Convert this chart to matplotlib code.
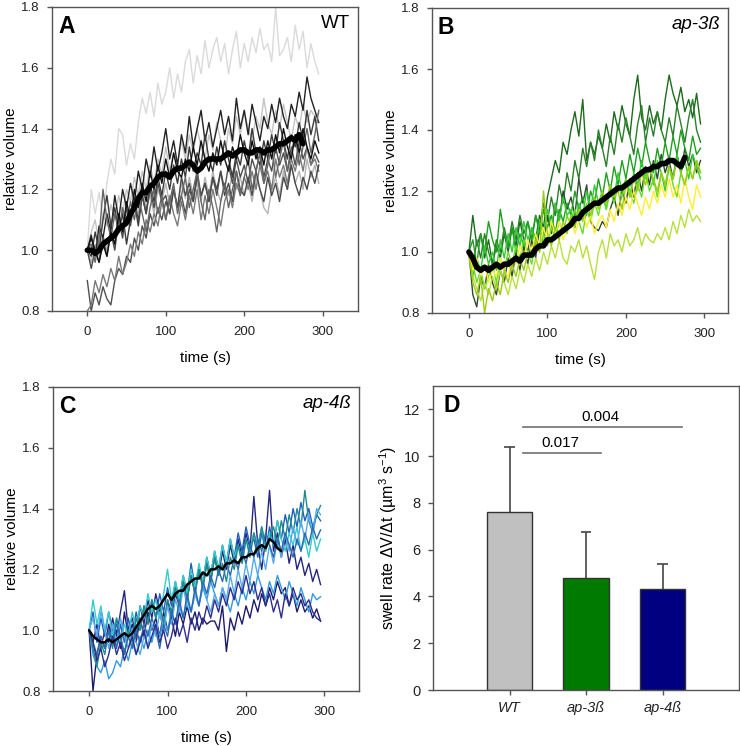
import numpy as np
import matplotlib
matplotlib.use("Agg")
from matplotlib import pyplot as plt

plt.rcParams['font.family'] = ['Liberation Sans', 'DejaVu Sans']
plt.rcParams['mathtext.fontset'] = 'custom'
plt.rcParams['mathtext.rm'] = 'Liberation Sans'
plt.rcParams['mathtext.it'] = 'Liberation Sans:italic'

dt = 5  # s between frames

# ---------------- panel A : WT ----------------
wt_traces = [
    [1.00,1.20,1.12,1.19,1.10,1.22,1.30,1.25,1.40,1.38,1.28,1.35,1.30,1.42,1.50,1.45,1.52,1.44,1.55,1.48,1.52,1.60,1.50,1.58,1.52,1.62,1.66,1.55,1.64,1.58,1.69,1.60,1.66,1.70,1.62,1.68,1.58,1.66,1.72,1.60,1.68,1.62,1.70,1.65,1.73,1.66,1.68,1.62,1.80,1.64,1.66,1.70,1.62,1.74,1.66,1.72,1.60,1.68,1.62,1.58],
    [1.00,1.06,1.10,1.02,1.12,1.08,1.15,1.10,1.18,1.12,1.20,1.16,1.24,1.18,1.26,1.20,1.28,1.22,1.30,1.25,1.34,1.26,1.32,1.28,1.36,1.30,1.38,1.32,1.40,1.34,1.30,1.38,1.33,1.42,1.36,1.30,1.40,1.35,1.44,1.38,1.46,1.40,1.36,1.44,1.40,1.50,1.42,1.38,1.46,1.40,1.48,1.42,1.36,1.44,1.40,1.48,1.42,1.46,1.44,1.45],
    [1.00,0.96,1.02,0.98,1.05,1.00,1.08,1.04,1.10,1.06,1.14,1.10,1.16,1.12,1.20,1.14,1.18,1.12,1.20,1.16,1.22,1.15,1.20,1.14,1.22,1.17,1.24,1.18,1.22,1.16,1.24,1.18,1.26,1.20,1.16,1.22,1.18,1.26,1.20,1.24,1.18,1.22,1.16,1.24,1.20,1.14,1.12,1.20,1.24,1.18,1.26,1.20,1.28,1.22,1.26,1.20,1.30,1.24,1.28,1.22],
    [0.90,0.80,0.86,0.82,0.88,0.84,0.82,0.90,0.94,0.92,0.98,0.96,1.04,1.00,1.08,1.04,1.12,1.08,1.14,1.10,1.16,1.12,1.20,1.14,1.18,1.12,1.20,1.16,1.24,1.18,1.22,1.16,1.24,1.18,1.26,1.20,1.28,1.22,1.30,1.24,1.28,1.22,1.30,1.26,1.32,1.24,1.30,1.26,1.34,1.28,1.32,1.26,1.34,1.28,1.36,1.30,1.34,1.28,1.32,1.29],
    [0.80,0.82,0.90,0.86,0.92,0.88,0.94,0.90,0.98,0.92,0.96,1.02,0.98,1.06,1.02,1.10,1.06,1.12,1.08,1.16,1.10,1.18,1.12,1.08,1.16,1.10,1.18,1.12,1.20,1.10,1.18,1.12,1.20,1.14,1.08,1.16,1.20,1.14,1.22,1.18,1.24,1.20,1.26,1.20,1.28,1.22,1.26,1.20,1.30,1.24,1.28,1.22,1.30,1.26,1.32,1.26,1.34,1.28,1.30,1.26],
    [1.00,1.05,0.98,1.08,1.04,1.12,1.06,1.18,1.10,1.20,1.14,1.22,1.16,1.26,1.20,1.30,1.24,1.34,1.26,1.32,1.40,1.30,1.36,1.28,1.38,1.32,1.44,1.34,1.40,1.46,1.36,1.42,1.34,1.40,1.46,1.38,1.44,1.36,1.50,1.40,1.46,1.38,1.48,1.42,1.36,1.44,1.40,1.48,1.42,1.50,1.44,1.40,1.48,1.44,1.52,1.46,1.57,1.50,1.46,1.42],
    [1.00,0.98,1.06,1.00,1.10,1.18,1.08,1.14,1.06,1.12,1.02,1.10,1.16,1.08,1.18,1.12,1.22,1.16,1.24,1.18,1.26,1.20,1.28,1.22,1.30,1.24,1.34,1.26,1.32,1.28,1.38,1.30,1.26,1.34,1.28,1.36,1.30,1.24,1.32,1.28,1.36,1.30,1.40,1.32,1.28,1.36,1.30,1.38,1.32,1.42,1.36,1.30,1.38,1.34,1.42,1.36,1.46,1.38,1.44,1.36],
    [1.00,0.94,1.00,0.96,1.04,0.98,1.06,1.00,1.10,1.04,1.14,1.08,1.16,1.10,1.18,1.12,1.20,1.14,1.22,1.16,1.18,1.12,1.20,1.14,1.24,1.18,1.22,1.16,1.26,1.18,1.22,1.16,1.24,1.20,1.26,1.18,1.22,1.16,1.26,1.20,1.18,1.24,1.18,1.26,1.20,1.16,1.24,1.18,1.22,1.16,1.24,1.20,1.28,1.22,1.18,1.24,1.20,1.26,1.22,1.28],
    [1.00,1.02,0.96,1.04,1.20,1.10,1.04,1.12,1.06,1.14,1.08,1.16,1.10,1.18,1.12,1.06,1.14,1.20,1.12,1.18,1.10,1.16,1.22,1.12,1.18,1.24,1.14,1.20,1.26,1.16,1.10,1.20,1.14,1.06,1.16,1.22,1.14,1.20,1.26,1.18,1.24,1.30,1.20,1.26,1.32,1.22,1.28,1.34,1.24,1.30,1.36,1.26,1.32,1.38,1.28,1.34,1.40,1.32,1.38,1.46],
    [1.00,1.04,1.00,0.96,1.02,0.98,1.06,1.02,1.12,1.06,1.16,1.10,1.20,1.14,1.22,1.16,1.26,1.20,1.28,1.22,1.30,1.24,1.32,1.26,1.24,1.30,1.26,1.34,1.28,1.36,1.30,1.26,1.32,1.28,1.36,1.30,1.26,1.34,1.30,1.38,1.32,1.28,1.36,1.30,1.34,1.28,1.36,1.30,1.38,1.32,1.40,1.34,1.30,1.38,1.32,1.40,1.34,1.30,1.36,1.32],
]
wt_colors = ['#dadada', '#c4c4c4', '#b4b4b4', '#505050', '#7a7a7a',
             '#222222', '#3a3a3a', '#4a4a4a', '#666666', '#111111']
wt_mean = [1.00,1.00,0.99,1.00,1.02,1.03,1.04,1.05,1.07,1.08,1.09,1.12,1.14,1.17,1.19,1.19,1.21,1.22,1.24,1.25,
           1.25,1.24,1.26,1.27,1.27,1.28,1.29,1.28,1.26,1.27,1.29,1.30,1.30,1.30,1.30,1.31,1.32,1.31,1.32,1.33,
           1.33,1.32,1.32,1.33,1.33,1.32,1.33,1.33,1.34,1.35,1.35,1.36,1.37,1.36,1.38,1.35]

# ---------------- panel B : ap-3ß ----------------
ap3_traces = [
    [1.00,1.12,1.02,1.06,0.98,1.04,0.96,1.02,0.98,1.06,1.00,1.08,1.02,1.10,1.04,1.00,1.08,1.04,1.12,1.08,1.18,1.24,1.30,1.26,1.36,1.32,1.40,1.46,1.38,1.50,1.30,1.36,1.32,1.38,1.34,1.42,1.36,1.46,1.40,1.48,1.42,1.38,1.50,1.58,1.44,1.40,1.48,1.42,1.46,1.40,1.50,1.58,1.52,1.48,1.54,1.46,1.50,1.44,1.52,1.42],
    [1.00,0.94,1.04,0.98,1.06,1.00,0.96,1.04,1.00,1.08,1.02,1.10,1.04,1.12,1.06,1.10,1.04,1.12,1.08,1.16,1.10,1.18,1.12,1.22,1.16,1.26,1.20,1.30,1.24,1.34,1.28,1.36,1.30,1.40,1.34,1.28,1.38,1.32,1.42,1.36,1.44,1.38,1.32,1.42,1.48,1.36,1.44,1.38,1.46,1.40,1.36,1.44,1.38,1.48,1.42,1.36,1.44,1.50,1.40,1.36],
    [1.00,0.86,0.82,0.92,0.88,0.96,0.90,0.86,0.94,0.90,0.98,0.92,1.00,0.94,1.02,0.96,1.04,0.98,1.08,1.02,1.12,1.06,1.16,1.10,1.20,1.14,1.18,1.12,1.24,1.16,1.22,1.10,1.08,1.07,1.10,1.08,1.14,1.18,1.12,1.20,1.16,1.24,1.18,1.26,1.20,1.28,1.22,1.30,1.24,1.32,1.26,1.30,1.24,1.32,1.26,1.34,1.28,1.32,1.26,1.30],
    [1.00,1.04,0.96,1.06,1.00,1.10,1.04,1.00,1.14,1.06,1.02,1.08,1.00,1.06,1.02,1.10,1.04,1.12,1.06,1.14,1.08,1.12,1.06,1.14,1.10,1.16,1.12,1.20,1.14,1.18,1.12,1.20,1.16,1.24,1.18,1.26,1.20,1.28,1.22,1.30,1.24,1.32,1.26,1.34,1.28,1.36,1.30,1.26,1.34,1.28,1.36,1.30,1.38,1.32,1.40,1.34,1.30,1.38,1.32,1.34],
    [1.00,0.92,0.98,0.94,1.02,0.96,1.00,0.94,1.04,0.98,1.06,1.00,1.08,1.02,1.10,1.04,1.08,1.02,1.10,1.06,1.14,1.08,1.16,1.10,1.18,1.12,1.14,1.08,1.16,1.12,1.20,1.14,1.22,1.16,1.20,1.14,1.22,1.18,1.26,1.20,1.24,1.18,1.26,1.22,1.30,1.24,1.28,1.22,1.30,1.26,1.20,1.28,1.24,1.32,1.26,1.30,1.24,1.32,1.28,1.24],
    [1.00,0.96,0.90,0.94,0.88,0.92,0.96,0.90,0.98,0.94,1.00,0.96,1.02,0.98,1.04,1.00,0.96,1.04,1.00,1.06,1.02,1.08,1.04,1.10,1.06,1.12,1.08,1.14,1.10,1.06,1.14,1.10,1.16,1.12,1.18,1.14,1.20,1.16,1.22,1.18,1.24,1.20,1.16,1.22,1.18,1.26,1.20,1.24,1.18,1.26,1.22,1.28,1.22,1.18,1.26,1.22,1.28,1.24,1.30,1.26],
    [1.00,0.94,0.98,0.92,0.96,0.90,0.94,0.92,0.98,0.94,0.92,0.98,0.96,1.02,0.98,1.04,1.00,1.06,1.02,1.08,1.04,1.10,1.06,1.10,1.04,1.08,1.12,1.06,1.10,1.14,1.08,1.12,1.06,1.10,1.12,1.08,1.14,1.10,1.16,1.12,1.18,1.14,1.20,1.16,1.12,1.18,1.14,1.20,1.16,1.22,1.18,1.24,1.18,1.22,1.16,1.24,1.18,1.14,1.22,1.18],
    [0.98,0.92,0.88,0.84,0.90,0.86,0.92,0.88,0.94,0.90,0.86,0.92,0.88,0.94,0.90,0.96,0.92,0.98,0.94,1.00,0.96,1.02,0.98,1.04,0.98,0.96,1.02,1.00,1.04,0.98,1.02,0.96,0.91,1.00,1.04,0.98,1.06,1.02,1.04,1.00,1.06,1.02,1.04,1.08,1.02,1.06,1.04,1.03,1.06,1.04,1.08,1.04,1.10,1.06,1.12,1.08,1.14,1.10,1.12,1.10],
    [1.00,0.90,0.86,0.92,0.80,0.88,0.84,0.90,0.86,0.94,0.90,0.96,0.92,0.98,0.94,1.00,0.98,1.04,1.00,1.20,1.06,1.02,1.08,1.04,1.10,1.06,1.12,1.08,1.14,1.10,1.16,1.12,1.18,1.14,1.20,1.16,1.22,1.18,1.20,1.14,1.22,1.18,1.24,1.20,1.26,1.22,1.28,1.24,1.20,1.26,1.22,1.28,1.24,1.30,1.26,1.22,1.28,1.24,1.30,1.26],
]
ap3_colors = ['#1e6b1e', '#2b7f2b', '#2f4a2f', '#1f9f1f', '#33cc33',
              '#66dd22', '#ffee33', '#b8e03a', '#9acd10']
ap3_mean = [1.00,0.98,0.95,0.94,0.95,0.94,0.95,0.96,0.95,0.96,0.96,0.97,0.98,0.97,0.99,0.99,0.99,1.01,1.02,1.02,
            1.04,1.04,1.05,1.06,1.07,1.08,1.09,1.11,1.11,1.13,1.14,1.15,1.16,1.16,1.17,1.18,1.19,1.20,1.21,1.21,
            1.22,1.23,1.24,1.25,1.26,1.27,1.27,1.28,1.28,1.29,1.29,1.30,1.30,1.29,1.28,1.31]

# ---------------- panel C : ap-4ß ----------------
ap4_traces = [
    [1.00,0.80,0.92,0.98,0.94,1.02,0.96,1.00,0.94,1.06,0.98,1.02,0.96,1.04,0.98,1.06,1.00,1.04,0.98,1.06,1.00,1.04,0.98,1.06,1.02,1.08,1.02,1.06,1.00,1.04,1.02,1.03,1.03,1.00,1.08,0.93,1.04,1.00,1.06,1.02,1.08,1.04,1.10,1.06,1.12,1.08,1.14,1.10,1.16,1.12,1.14,1.08,1.12,1.06,1.10,1.06,1.08,1.04,1.07,1.03],
    [1.00,0.96,1.02,0.94,1.00,0.96,1.04,0.98,1.06,1.13,1.00,1.04,0.98,1.08,1.02,1.10,1.04,1.12,1.06,1.00,1.10,1.04,1.12,1.08,1.16,1.10,1.18,1.12,1.20,1.14,1.22,1.16,1.24,1.18,1.26,1.20,1.28,1.22,1.30,1.24,1.32,1.26,1.44,1.28,1.20,1.30,1.46,1.26,1.32,1.24,1.30,1.22,1.28,1.20,1.24,1.18,1.22,1.16,1.20,1.15],
    [1.00,1.06,0.96,1.04,0.98,1.06,1.00,0.94,1.02,0.96,1.04,0.98,1.06,1.00,1.08,1.02,1.10,1.04,1.12,1.06,1.14,1.08,1.16,1.10,1.18,1.12,1.22,1.14,1.20,1.16,1.24,1.18,1.26,1.20,1.28,1.22,1.30,1.24,1.32,1.26,1.34,1.28,1.30,1.24,1.32,1.26,1.34,1.28,1.36,1.30,1.38,1.32,1.40,1.34,1.42,1.36,1.40,1.34,1.38,1.36],
    [1.00,0.92,0.88,0.86,0.90,0.84,0.86,0.90,0.88,0.94,0.90,0.96,0.92,0.98,0.94,1.00,0.96,1.02,0.98,1.04,1.00,1.06,1.02,1.08,1.04,1.10,1.06,1.12,1.08,1.14,1.10,1.16,1.12,1.08,1.14,1.10,1.06,1.12,1.08,1.14,1.10,1.16,1.12,1.18,1.14,1.10,1.16,1.12,1.18,1.14,1.10,1.16,1.12,1.08,1.14,1.10,1.06,1.12,1.10,1.11],
    [1.00,1.10,1.02,1.08,1.00,1.06,0.98,1.04,0.96,1.02,0.98,1.06,1.00,1.08,1.04,1.12,1.06,1.10,1.04,1.12,1.20,1.10,1.16,1.10,1.18,1.12,1.20,1.14,1.22,1.16,1.24,1.18,1.26,1.20,1.28,1.22,1.30,1.24,1.28,1.22,1.30,1.26,1.32,1.28,1.34,1.26,1.32,1.28,1.36,1.30,1.26,1.32,1.28,1.34,1.26,1.30,1.24,1.32,1.26,1.30],
    [1.00,0.94,0.88,0.96,0.92,1.00,0.94,1.04,0.98,0.92,1.00,0.96,1.04,1.00,1.08,1.02,1.10,1.04,1.08,1.02,1.10,1.06,1.14,1.08,1.16,1.10,1.18,1.12,1.20,1.14,1.22,1.16,1.24,1.18,1.22,1.16,1.24,1.20,1.28,1.22,1.30,1.24,1.32,1.26,1.34,1.28,1.30,1.34,1.28,1.36,1.30,1.38,1.32,1.40,1.34,1.46,1.36,1.32,1.38,1.41],
    [1.00,1.04,0.98,1.06,1.00,0.94,1.02,0.96,1.04,0.98,0.94,1.00,0.96,0.92,0.98,0.95,1.02,0.98,1.06,1.00,1.08,1.02,1.10,1.06,1.14,1.08,1.06,1.12,1.08,1.16,1.10,1.06,1.12,1.08,1.14,1.10,1.18,1.12,1.20,1.14,1.22,1.16,1.24,1.18,1.26,1.20,1.28,1.22,1.30,1.24,1.32,1.26,1.34,1.28,1.36,1.30,1.38,1.32,1.40,1.38],
    [1.00,0.96,0.92,0.98,0.94,1.00,0.96,1.02,0.98,0.92,0.98,0.94,1.00,0.96,1.02,0.98,1.04,1.00,0.94,1.02,0.98,1.06,1.02,1.10,1.04,1.12,1.06,1.14,1.08,1.16,1.12,1.18,1.14,1.20,1.16,1.22,1.18,1.24,1.20,1.26,1.22,1.28,1.24,1.30,1.26,1.32,1.28,1.24,1.30,1.26,1.32,1.28,1.24,1.30,1.26,1.32,1.28,1.34,1.30,1.33],
    [1.00,0.96,0.90,0.94,0.88,0.92,0.98,0.92,0.96,0.90,0.94,0.98,0.92,0.96,1.00,0.94,0.98,1.02,0.96,1.00,0.94,0.98,1.04,0.98,1.02,0.96,1.04,1.00,1.06,1.02,1.08,1.04,1.10,1.06,1.12,1.08,1.14,1.10,1.16,1.12,1.18,1.12,1.16,1.10,1.14,1.08,1.12,1.06,1.10,1.04,1.12,1.08,1.14,1.10,1.12,1.08,1.10,1.06,1.04,1.03],
]
ap4_colors = ['#1c1c6b', '#25257f', '#1f5fbf', '#3399e0', '#33cccc',
              '#1f8a8a', '#55aaee', '#2a6ab0', '#2e2e8a']
ap4_mean = [1.00,0.98,0.97,0.96,0.96,0.97,0.96,0.97,0.98,0.99,0.98,0.99,1.01,1.03,1.05,1.07,1.08,1.07,1.08,1.10,
            1.12,1.10,1.12,1.13,1.13,1.15,1.16,1.17,1.17,1.19,1.18,1.20,1.20,1.21,1.20,1.22,1.22,1.23,1.22,1.24,
            1.24,1.25,1.25,1.27,1.28,1.27,1.30,1.29,1.27,1.26]

# ---------------- panel D : swell rate ----------------
groups = ['WT', 'ap-3ß', 'ap-4ß']
rate = [7.6, 4.8, 4.3]
rate_err = [2.8, 1.95, 1.1]
bar_colors = ['#c0c0c0', '#007a00', '#000080']
sig_labels = ['0.017', '0.004']
sig_y = [10.15, 11.25]
sig_span = [(1.17, 2.2), (1.17, 3.26)]

fig = plt.figure(figsize=(7.40, 7.46), dpi=100)
W, H = 740, 746


def add_ax(l, t, r, b):
    return fig.add_axes([l / W, 1 - b / H, (r - l) / W, (b - t) / H])


def style(ax, size=9.5):
    for s in ax.spines.values():
        s.set_color('#555555')
        s.set_linewidth(1.0)
    ax.tick_params(direction='out', length=3.5, width=1, color='#555555',
                   labelsize=size, labelcolor='#222222', top=False, right=False)
    ax.tick_params(axis='x', pad=7.5)
    ax.tick_params(axis='y', pad=5.5)


def trace_panel(ax, traces, colors, mean, mean_lw, letter, name, italic, xlim):
    for tr, c in zip(traces, colors):
        t = np.arange(len(tr)) * dt
        ax.plot(t, tr, color=c, lw=1.0)
    tm = np.arange(len(mean)) * dt
    ax.plot(tm, mean, color='black', lw=mean_lw, solid_capstyle='round')
    ax.set_xlim(*xlim)
    ax.set_ylim(0.8, 1.8)
    ax.set_xticks([0, 100, 200, 300])
    ax.set_yticks([0.8, 1.0, 1.2, 1.4, 1.6, 1.8])
    ax.yaxis.set_major_formatter(matplotlib.ticker.FormatStrFormatter('%.1f'))
    style(ax)
    ax.set_xlabel('time (s)', fontsize=11, labelpad=9)
    ax.set_ylabel('relative volume', fontsize=11, labelpad=2)
    ax.text(0.02, 0.975, letter, transform=ax.transAxes, fontsize=16.5,
            fontweight='bold', va='top', ha='left')
    ax.text(0.975, 0.975, name, transform=ax.transAxes, fontsize=13.5,
            style='italic' if italic else 'normal', va='top', ha='right')


axA = add_ax(52, 7, 358, 311)
trace_panel(axA, wt_traces, wt_colors, wt_mean, 4.0, 'A', 'WT', False, (-45, 345))

axB = add_ax(432, 8, 728, 313)
trace_panel(axB, ap3_traces, ap3_colors, ap3_mean, 4.0, 'B', 'ap-3ß', True, (-47, 330))

axC = add_ax(53, 387, 359, 691)
trace_panel(axC, ap4_traces, ap4_colors, ap4_mean, 1.8, 'C', 'ap-4ß', True, (-46, 344))

axD = add_ax(433, 386, 739, 690)
pos = np.arange(1, len(groups) + 1)
err_top = np.array(rate) + np.array(rate_err)
axD.vlines(pos, rate, err_top, color='#444444', lw=1.2, zorder=1)
axD.hlines(err_top, pos - 0.07, pos + 0.07, color='#444444', lw=1.2, zorder=1)
axD.bar(pos, rate, width=0.6, color=bar_colors, edgecolor='#333333', linewidth=1.0, zorder=2)
for lab, y, (x0, x1) in zip(sig_labels, sig_y, sig_span):
    axD.plot([x0, x1], [y, y], color='#707070', lw=1.2)
    axD.text((x0 + x1) / 2 - 0.02, y + 0.12, lab, ha='center', va='bottom', fontsize=11)
axD.set_xlim(0, 4)
axD.set_ylim(0, 13)
axD.set_xticks(pos)
axD.set_xticklabels(groups, style='italic', fontsize=10)
axD.set_yticks([0, 2, 4, 6, 8, 10, 12])
style(axD, size=10.5)
axD.tick_params(axis='x', pad=4.5, labelsize=10.5)
axD.set_ylabel(r'swell rate $\Delta$V/$\Delta$t (µm$^3$ s$^{-1}$)', fontsize=11.5, labelpad=4)
axD.text(0.035, 0.975, 'D', transform=axD.transAxes, fontsize=16.5,
         fontweight='bold', va='top', ha='left')

fig.savefig('out.png', dpi=100)
